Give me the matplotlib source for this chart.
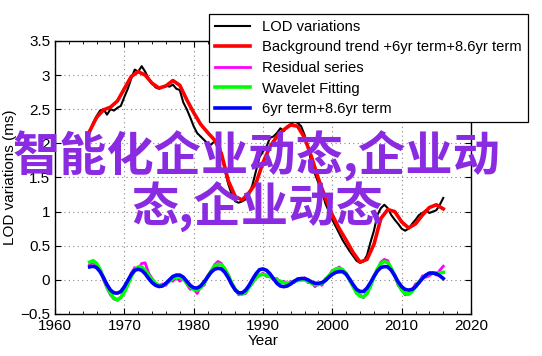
import numpy as np
import matplotlib.pyplot as plt
from matplotlib.ticker import MultipleLocator, FuncFormatter

# --- data ---
yr_lod = np.arange(1965.0, 2016.01, 0.5)
lod = [2.15, 2.30, 2.40, 2.48, 2.50, 2.42, 2.50, 2.48, 2.52, 2.55,
       2.68, 2.80, 2.95, 3.08, 3.05, 3.13, 3.05, 2.95, 2.88, 2.82,
       2.80, 2.82, 2.85, 2.83, 2.86, 2.80, 2.78, 2.60, 2.50, 2.38,
       2.25, 2.15, 2.10, 2.05, 2.00, 1.98, 2.03, 2.07, 1.85, 1.60,
       1.40, 1.25, 1.15, 1.13, 1.15, 1.18, 1.25, 1.40, 1.60, 1.80,
       1.88, 1.95, 2.08, 2.10, 2.15, 2.22, 2.18, 2.25, 2.28, 2.32,
       2.30, 2.25, 2.12, 1.95, 1.70, 1.55, 1.42, 1.30, 1.12, 1.00,
       0.88, 0.78, 0.68, 0.58, 0.50, 0.42, 0.35, 0.28, 0.25, 0.27,
       0.36, 0.55, 0.72, 0.95, 1.05, 1.10, 1.05, 0.95, 0.88, 0.82,
       0.75, 0.72, 0.75, 0.82, 0.88, 0.95, 0.98, 1.02, 0.98, 1.00,
       1.02, 1.10, 1.20]

yr_trend = np.arange(1965, 2017)
trend = [2.18, 2.38, 2.49, 2.53, 2.62, 2.80, 2.98, 3.05, 3.00, 2.88,
         2.81, 2.84, 2.92, 2.85, 2.64, 2.45, 2.28, 2.16, 2.05, 1.85,
         1.45, 1.22, 1.17, 1.28, 1.42, 1.72, 1.95, 2.10, 2.20, 2.27,
         2.25, 2.08, 1.80, 1.48, 1.20, 0.95, 0.75, 0.58, 0.40, 0.26,
         0.30, 0.52, 0.90, 1.03, 1.00, 0.85, 0.76, 0.82, 0.95, 1.06,
         1.10, 1.04]

yr_osc = np.arange(1965.0, 2016.01, 0.5)
residual = [0.22, 0.27, 0.20, 0.15, 0.00, -0.12, -0.22, -0.28, -0.30, -0.25,
            -0.15, -0.05, 0.10, 0.18, 0.15, 0.24, 0.25, 0.10, 0.02, -0.05,
            -0.10, -0.06, -0.08, 0.00, -0.02, 0.04, -0.02, 0.02, -0.06, -0.14,
            -0.12, -0.20, -0.10, -0.08, 0.06, 0.12, 0.22, 0.27, 0.24, 0.14,
            0.08, -0.06, -0.14, -0.22, -0.20, -0.20, -0.10, -0.05, 0.05, 0.06,
            0.10, 0.05, 0.06, 0.00, 0.02, -0.04, -0.02, -0.06, -0.02, -0.04,
            0.02, 0.00, 0.03, -0.04, -0.04, -0.10, -0.06, -0.08, 0.02, 0.05,
            0.14, 0.15, 0.19, 0.13, 0.10, -0.02, -0.08, -0.20, -0.22, -0.26,
            -0.18, -0.10, 0.06, 0.14, 0.26, 0.30, 0.28, 0.15, 0.08, -0.08,
            -0.14, -0.22, -0.20, -0.16, -0.06, -0.05, 0.06, 0.04, 0.06, 0.10,
            0.07, 0.14, 0.20]
wavelet = [0.26, 0.28, 0.24, 0.15, 0.03, -0.10, -0.20, -0.27, -0.29, -0.26,
           -0.18, -0.07, 0.05, 0.14, 0.19, 0.19, 0.14, 0.07, 0.00, -0.05,
           -0.08, -0.08, -0.06, -0.02, 0.02, 0.04, 0.04, 0.01, -0.04, -0.10,
           -0.14, -0.15, -0.12, -0.05, 0.04, 0.13, 0.20, 0.23, 0.22, 0.16,
           0.06, -0.05, -0.14, -0.20, -0.21, -0.18, -0.11, -0.03, 0.03, 0.07,
           0.08, 0.07, 0.05, 0.02, 0.00, -0.02, -0.04, -0.05, -0.04, -0.02,
           -0.01, 0.00, 0.00, -0.02, -0.05, -0.07, -0.07, -0.05, 0.00, 0.06,
           0.12, 0.16, 0.17, 0.15, 0.09, 0.00, -0.10, -0.19, -0.24, -0.25,
           -0.20, -0.09, 0.04, 0.16, 0.24, 0.27, 0.25, 0.17, 0.06, -0.06,
           -0.15, -0.20, -0.21, -0.17, -0.10, -0.03, 0.03, 0.07, 0.09, 0.10,
           0.10, 0.10, 0.11]
six_86 = [0.19, 0.20, 0.18, 0.12, 0.03, -0.07, -0.15, -0.19, -0.195, -0.17,
          -0.10, -0.01, 0.08, 0.14, 0.156, 0.14, 0.09, 0.02, -0.04, -0.08,
          -0.098, -0.09, -0.05, 0.00, 0.05, 0.07, 0.07, 0.04, -0.02, -0.08,
          -0.115, -0.12, -0.09, -0.03, 0.04, 0.11, 0.155, 0.17, 0.16, 0.11,
          0.03, -0.07, -0.15, -0.19, -0.19, -0.15, -0.08, 0.01, 0.09, 0.15,
          0.16, 0.14, 0.09, 0.02, -0.05, -0.09, -0.10, -0.09, -0.06, -0.02,
          0.01, 0.02, 0.02, 0.00, -0.03, -0.05, -0.05, -0.04, -0.01, 0.04,
          0.08, 0.11, 0.12, 0.12, 0.08, 0.01, -0.07, -0.14, -0.17, -0.17,
          -0.12, -0.04, 0.05, 0.13, 0.18, 0.195, 0.19, 0.14, 0.06, -0.03,
          -0.10, -0.14, -0.15, -0.14, -0.10, -0.04, 0.02, 0.07, 0.10, 0.10,
          0.09, 0.06, 0.02]

labels = ['LOD variations', 'Background trend +6yr term+8.6yr term',
          'Residual series', 'Wavelet Fitting', '6yr term+8.6yr term']
watermark = '智能化企业动态,企业动\n态,企业动态'

plt.rcParams['font.family'] = ['Liberation Sans', 'DejaVu Sans']
plt.rcParams['axes.unicode_minus'] = True

fig = plt.figure(figsize=(5.42, 3.56), dpi=100)
ax = fig.add_axes([0.1015, 0.118, 0.7675, 0.767])

l1, = ax.plot(yr_lod, lod, color='k', lw=1.5)
l2, = ax.plot(yr_trend, trend, color='#ff0000', lw=2.6)
l3, = ax.plot(yr_osc, residual, color='#ff00ff', lw=2.0)
l4, = ax.plot(yr_osc, wavelet, color='#00ff00', lw=2.6)
l5, = ax.plot(yr_osc, six_86, color='#0000ff', lw=2.6)

ax.set_xlim(1960, 2020)
ax.set_ylim(-0.5, 3.5)
ax.xaxis.set_major_locator(MultipleLocator(10))
ax.xaxis.set_minor_locator(MultipleLocator(2))
ax.yaxis.set_major_locator(MultipleLocator(0.5))
ax.yaxis.set_major_formatter(FuncFormatter(lambda v, p: ('%g' % v).replace('-', '\u2212')))
ax.tick_params(which='both', direction='in', top=True, right=True, labelsize=11)
ax.tick_params(which='major', length=4)
ax.tick_params(which='minor', length=2)
ax.grid(True, which='major', linestyle=(0, (1, 3)), color='#888888', lw=0.8)
for s in ax.spines.values():
    s.set_linewidth(1.0)

ax.set_xlabel('Year', fontsize=11, labelpad=1)
ax.set_ylabel('LOD variations (ms)', fontsize=11, labelpad=2)

leg = fig.legend([l1, l2, l3, l4, l5], labels, loc='upper left',
                 bbox_to_anchor=(0.386, 0.961), borderaxespad=0, fontsize=10.6,
                 handlelength=2.4, labelspacing=0.45, borderpad=0.4,
                 fancybox=False, framealpha=1, edgecolor='k')
leg.get_frame().set_linewidth(0.9)

fig.text(0.474, 0.49, watermark, ha='center', va='center', fontsize=34,
         fontweight='bold', color='#8a2be2', linespacing=1.0,
         family=['Noto Sans CJK SC', 'DejaVu Sans'], zorder=10)

fig.savefig('out.png', dpi=100)
